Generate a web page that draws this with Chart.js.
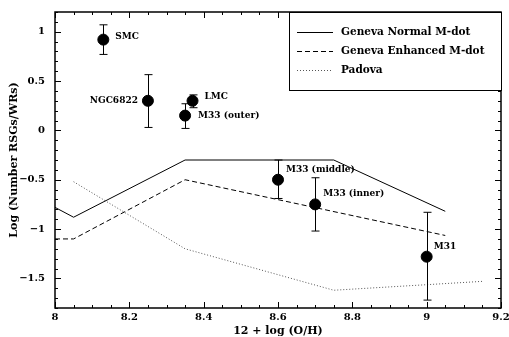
<!DOCTYPE html>
<html>
<head>
<meta charset="utf-8">
<script src="https://cdn.jsdelivr.net/npm/chart.js@4.4.1/dist/chart.umd.min.js"></script>
<style>
  html, body { margin: 0; padding: 0; background: #fff; }
  #wrap { width: 509px; height: 337px; }
</style>
</head>
<body>
<div id="wrap"><canvas id="chart"></canvas></div>
<script>
// galaxies: metallicity vs log(RSG/WR)
const galaxies = ["SMC", "NGC6822", "LMC", "M33 (outer)", "M33 (middle)", "M33 (inner)", "M31"];
const oh = [8.13, 8.25, 8.37, 8.35, 8.60, 8.70, 9.00];
const ratio = [0.92, 0.30, 0.30, 0.15, -0.50, -0.75, -1.28];
const ratioHi = [1.07, 0.565, 0.36, 0.27, -0.30, -0.48, -0.83];
const ratioLo = [0.77, 0.03, 0.23, 0.02, -0.69, -1.02, -1.72];

// model tracks
const genevaNormalX = [8.0, 8.05, 8.35, 8.75, 9.05];
const genevaNormalY = [-0.78, -0.88, -0.30, -0.30, -0.82];
const genevaEnhX = [8.0, 8.05, 8.35, 9.05];
const genevaEnhY = [-1.10, -1.10, -0.50, -1.065];
const padovaX = [8.05, 8.35, 8.75, 9.15];
const padovaY = [-0.52, -1.20, -1.62, -1.53];

const xTicks = [8, 8.2, 8.4, 8.6, 8.8, 9, 9.2];
const yTicks = [1, 0.5, 0, -0.5, -1, -1.5];

// label placement (px offset from the point)
const labelOffsets = [[12, -3, "left"], [-10, 0, "right"], [12, -4, "left"], [13, 0, "left"],
                      [8, -10, "left"], [8, -11, "left"], [7, -10, "left"]];

const FONT = "'DejaVu Serif', serif";
const pts = (xs, ys) => xs.map((x, i) => ({ x: x, y: ys[i] }));

const extras = {
  id: "extras",
  afterDatasetsDraw(chart) {
    const { ctx, chartArea: a, scales: { x, y } } = chart;
    ctx.save();
    // error bars
    ctx.strokeStyle = "#000";
    ctx.lineWidth = 1;
    oh.forEach((v, i) => {
      const px = Math.round(x.getPixelForValue(v)) + 0.5;
      const t = y.getPixelForValue(ratioHi[i]);
      const b = y.getPixelForValue(ratioLo[i]);
      ctx.beginPath();
      ctx.moveTo(px, t); ctx.lineTo(px, b);
      ctx.moveTo(px - 4, t); ctx.lineTo(px + 4, t);
      ctx.moveTo(px - 4, b); ctx.lineTo(px + 4, b);
      ctx.stroke();
    });
    // point labels
    ctx.fillStyle = "#000";
    ctx.font = "bold 9px " + FONT;
    ctx.textBaseline = "middle";
    galaxies.forEach((g, i) => {
      const o = labelOffsets[i];
      ctx.textAlign = o[2];
      ctx.fillText(g, x.getPixelForValue(oh[i]) + o[0], y.getPixelForValue(ratio[i]) + o[1]);
    });

    // frame + ticks on all sides
    ctx.lineWidth = 1.5;
    ctx.strokeRect(a.left, a.top, a.right - a.left, a.bottom - a.top);
    ctx.lineWidth = 1;
    ctx.beginPath();
    for (let k = 0; k <= 24; k++) {
      const v = 8 + k * 0.05;
      const px = Math.round(x.getPixelForValue(v)) + 0.5;
      const len = k % 4 === 0 ? 6 : 3;
      ctx.moveTo(px, a.bottom); ctx.lineTo(px, a.bottom - len);
      ctx.moveTo(px, a.top); ctx.lineTo(px, a.top + len);
    }
    for (let k = 0; k <= 30; k++) {
      const v = -1.8 + k * 0.1;
      const py = Math.round(y.getPixelForValue(v)) + 0.5;
      const len = (k + 2) % 5 === 0 ? 6 : 3;
      ctx.moveTo(a.left, py); ctx.lineTo(a.left + len, py);
      ctx.moveTo(a.right, py); ctx.lineTo(a.right - len, py);
    }
    ctx.stroke();

    // legend box
    const lx = 289, ly = a.top, lw = a.right - 289, lh = 78;
    ctx.fillStyle = "#fff";
    ctx.fillRect(lx, ly, lw, lh);
    ctx.strokeStyle = "#000";
    ctx.lineWidth = 1;
    ctx.strokeRect(lx + 0.5, ly + 0.5, lw, lh);
    ctx.font = "bold 10.5px " + FONT;
    ctx.textAlign = "left";
    chart.data.datasets.slice(0, 3).forEach((ds, i) => {
      const yy = ly + 20 + i * 19 + 0.5;
      ctx.strokeStyle = ds.borderColor;
      ctx.setLineDash(ds.borderDash || []);
      ctx.beginPath();
      ctx.moveTo(297, yy); ctx.lineTo(333, yy);
      ctx.stroke();
      ctx.setLineDash([]);
      ctx.fillStyle = "#000";
      ctx.fillText(ds.label, 341, yy);
    });
    ctx.restore();
  }
};

new Chart(document.getElementById("chart"), {
  type: "scatter",
  data: {
    datasets: [
      { label: "Geneva Normal M-dot", data: pts(genevaNormalX, genevaNormalY), showLine: true,
        borderColor: "#000", borderWidth: 1, pointRadius: 0 },
      { label: "Geneva Enhanced M-dot", data: pts(genevaEnhX, genevaEnhY), showLine: true,
        borderColor: "#000", borderWidth: 1, borderDash: [5, 3], pointRadius: 0 },
      { label: "Padova", data: pts(padovaX, padovaY), showLine: true,
        borderColor: "#555", borderWidth: 1, borderDash: [1, 2], pointRadius: 0 },
      { label: "Galaxies", data: pts(oh, ratio), backgroundColor: "#000", borderColor: "#000",
        pointRadius: 5.5, pointHoverRadius: 5.5 }
    ]
  },
  options: {
    responsive: true,
    maintainAspectRatio: false,
    animation: false,
    layout: { padding: { top: 12, right: 8, left: 0, bottom: 0 } },
    plugins: { legend: { display: false }, tooltip: { enabled: false } },
    scales: {
      x: {
        type: "linear", min: 8, max: 9.2,
        grid: { display: false, drawTicks: false },
        border: { display: false },
        afterBuildTicks: s => { s.ticks = xTicks.map(v => ({ value: v })); },
        afterFit: s => { s.height = 29; s.paddingLeft = 0; s.paddingRight = 0; },
        ticks: { padding: 3, color: "#000", font: { family: FONT, size: 10, weight: "bold" },
                 maxRotation: 0, callback: v => String(+v.toFixed(2)) },
        title: { display: true, text: "12 + log (O/H)", color: "#000", padding: { top: 0, bottom: 0 },
                 font: { family: FONT, size: 11, weight: "bold", lineHeight: 1 } }
      },
      y: {
        type: "linear", min: -1.8, max: 1.2,
        grid: { display: false, drawTicks: false },
        border: { display: false },
        afterBuildTicks: s => { s.ticks = yTicks.map(v => ({ value: v })); },
        afterFit: s => { s.width = 55; s.paddingTop = 0; s.paddingBottom = 0; },
        ticks: { padding: 10, color: "#000", font: { family: FONT, size: 10, weight: "bold" },
                 callback: v => String(v).replace("-", "\u2212") },
        title: { display: true, text: "Log (Number RSGs/WRs)", color: "#000", padding: { top: 8, bottom: 0 },
                 font: { family: FONT, size: 11, weight: "bold" } }
      }
    }
  },
  plugins: [extras]
});
</script>
</body>
</html>
